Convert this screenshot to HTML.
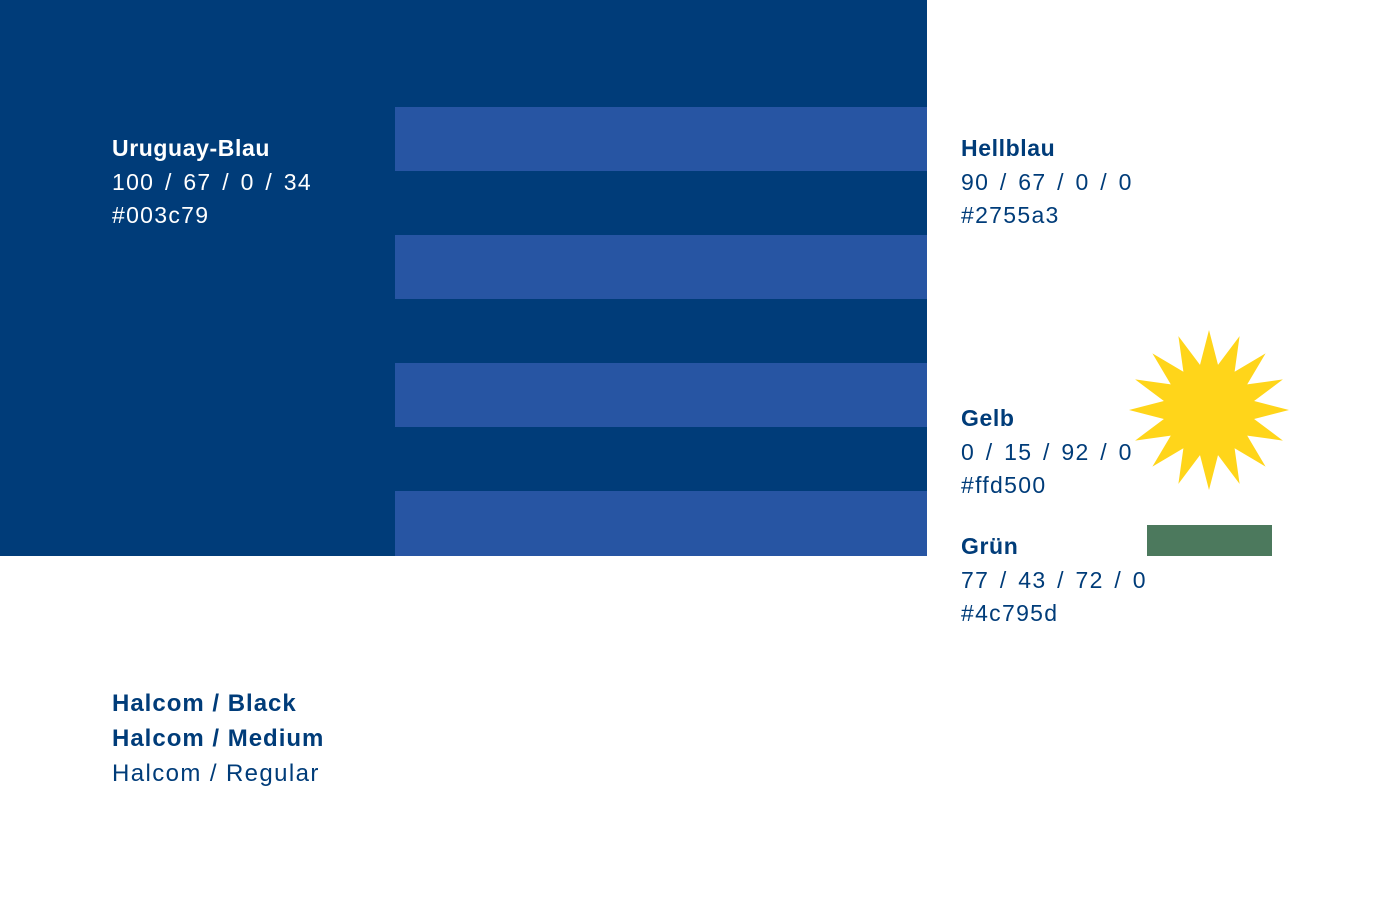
<!DOCTYPE html>
<html><head><style>
body{margin:0;width:1400px;height:900px;background:#fff;position:relative;overflow:hidden;font-family:"Liberation Sans",sans-serif;}
.a{position:absolute}
.t{position:absolute;font-size:23px;line-height:33.5px;color:#003c79;letter-spacing:1.3px;word-spacing:3px}
.t b{font-weight:bold;letter-spacing:0.6px;word-spacing:0}
</style></head><body>
<div class="a" style="left:0;top:0;width:927px;height:556px;background:#003c79"></div>
<div class="a" style="left:395px;top:107px;width:532px;height:64px;background:#2755a3"></div>
<div class="a" style="left:395px;top:235px;width:532px;height:64px;background:#2755a3"></div>
<div class="a" style="left:395px;top:363px;width:532px;height:64px;background:#2755a3"></div>
<div class="a" style="left:395px;top:491px;width:532px;height:65px;background:#2755a3"></div>
<div class="t" style="left:112px;top:132px;color:#fff"><b>Uruguay-Blau</b><br>100 / 67 / 0 / 34<br>#003c79</div>
<div class="t" style="left:961px;top:132px"><b>Hellblau</b><br>90 / 67 / 0 / 0<br>#2755a3</div>
<div class="t" style="left:961px;top:402px"><b>Gelb</b><br>0 / 15 / 92 / 0<br>#ffd500</div>
<div class="t" style="left:961px;top:530px"><b>Grün</b><br>77 / 43 / 72 / 0<br>#4c795d</div>
<div class="a" style="left:1147px;top:525px;width:125px;height:31px;background:#4c795d"></div>
<div class="t" style="left:112px;top:686px;line-height:35px;font-size:24px;letter-spacing:1px;word-spacing:0"><span style="font-weight:900;letter-spacing:1px">Halcom / Black</span><br><b style="letter-spacing:1px">Halcom / Medium</b><br><span style="letter-spacing:1.4px">Halcom / Regular</span></div>
<svg class="a" style="left:0;top:0" width="1400" height="900"><polygon id="sun" fill="#ffd51a" points=""/></svg>
<script>
var p=[],cx=1209,cy=410,n=32;
for(var i=0;i<n;i++){var a=-Math.PI/2+i*Math.PI*2/n;var r=i%2==0?80:46;p.push((cx+r*Math.cos(a)).toFixed(1)+","+(cy+r*Math.sin(a)).toFixed(1));}
document.getElementById("sun").setAttribute("points",p.join(" "));
</script>
</body></html>
